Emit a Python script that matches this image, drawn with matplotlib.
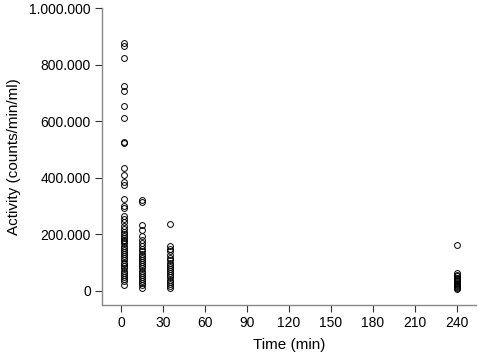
import matplotlib
matplotlib.use("Agg")
import matplotlib.pyplot as plt
from matplotlib.ticker import FuncFormatter

plt.rcParams['font.family'] = ['Liberation Sans', 'DejaVu Sans']

# activity values (counts/min/ml) per sampling time
t2 = [876000, 866000, 822000, 726000, 708000, 652000, 610000, 527000, 522000,
      434000, 410000, 385000, 375000, 325000, 300000, 292000, 265000, 255000,
      245000, 230000, 218000, 210000, 200000, 195000, 188000, 180000, 175000,
      168000, 160000, 152000, 145000, 138000, 130000, 122000, 115000, 108000,
      100000, 95000, 88000, 80000, 72000, 65000, 58000, 50000, 42000, 35000, 22000]
t15 = [322000, 316000, 232000, 215000, 195000, 180000, 170000, 160000, 150000,
       140000, 132000, 125000, 118000, 110000, 102000, 95000, 88000, 80000,
       72000, 65000, 58000, 50000, 42000, 35000, 28000, 20000, 12000]
t35 = [236000, 158000, 150000, 140000, 128000, 118000, 110000, 100000, 92000,
       85000, 78000, 70000, 62000, 55000, 48000, 40000, 32000, 25000, 18000, 10000]
t240 = [163000, 65000, 58000, 52000, 47000, 42000, 38000, 34000, 30000, 26000,
        22000, 18000, 14000, 10000, 7000]

times = [2, 15, 35, 240]
groups = [t2, t15, t35, t240]

fig = plt.figure(figsize=(4.78, 3.54), dpi=100)
ax = fig.add_axes([0.2134, 0.1384, 0.7816, 0.8390])

for t, vals in zip(times, groups):
    ax.plot([t] * len(vals), vals, linestyle='none', marker='o',
            markersize=4.2, markerfacecolor='none', markeredgecolor='black',
            markeredgewidth=0.7)

ax.set_xlim(-13.6, 253.6)
ax.set_ylim(-49500, 1000000)
ax.set_xticks(range(0, 241, 30))
ax.set_yticks(range(0, 1000001, 200000))
ax.yaxis.set_major_formatter(FuncFormatter(lambda v, p: f"{int(v):,}".replace(",", ".")))

for s in ['top', 'right']:
    ax.spines[s].set_visible(False)
for s in ['left', 'bottom']:
    ax.spines[s].set_color('#888888')
    ax.spines[s].set_linewidth(1.0)
ax.tick_params(direction='out', length=5, width=0.8, color='#333333',
               labelsize=10, pad=3)

ax.set_xlabel('Time (min)', fontsize=11, labelpad=6)
ax.set_ylabel('Activity (counts/min/ml)', fontsize=11, labelpad=6)

fig.savefig('out.png', dpi=100)
